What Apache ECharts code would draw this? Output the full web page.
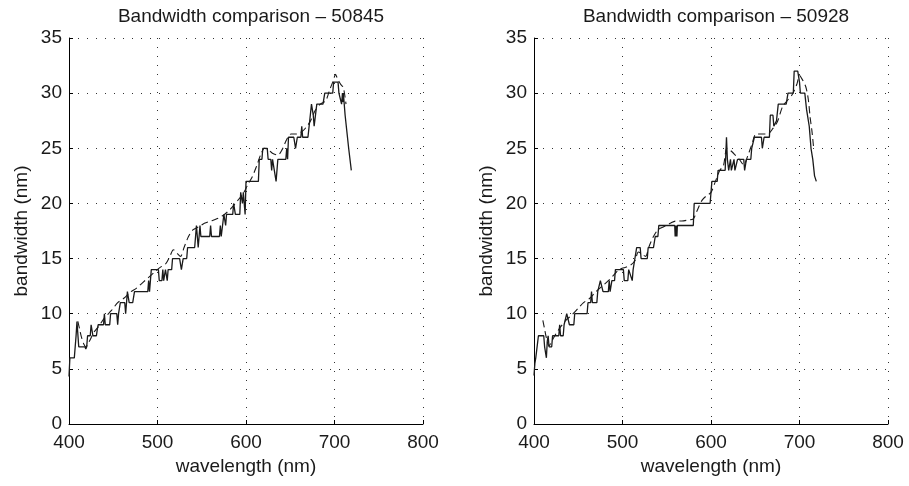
<!DOCTYPE html>
<html>
<head>
<meta charset="utf-8">
<title>Bandwidth comparison</title>
<script src="https://cdn.jsdelivr.net/npm/echarts@6/dist/echarts.min.js"></script>
<style>
  html, body { margin: 0; padding: 0; background: #fff; }
  #chart { width: 909px; height: 486px; }
</style>
</head>
<body>
<div id="chart"></div>
<script>
// Panel titles
const panelTitles = ['Bandwidth comparison \u2013 50845', 'Bandwidth comparison \u2013 50928'];

// Axis ticks
const xTicks = [400, 500, 600, 700, 800];
const yTicks = [0, 5, 10, 15, 20, 25, 30, 35];

// Measured bandwidth, sample 50845 [wavelength nm, bandwidth nm]
const measured50845 = [
  [400,4.3],[401,6],[406,6],[407,7],[408,8],[409,9.3],[411,7],[418,7],[419,6.8],[420,7],
  [421,8],[424,8],[425,9],[426,9],[427,8],[431,8],[432,8.6],[433,9],[439,9],[440,10],
  [441,9],[446,9],[447,10],[454,10],[455,9],[456,10],[457,10],[458,11],[463,11],[464,10],
  [466,12],[467,12],[468,11],[472,11],[474,12],[489,12],[490,13],[491,12],[492,12],[493,14],
  [501,14],[502,13],[505,13],[506,14],[507,13],[509,14],[511,13],[512,14],[516,14],[517,15],
  [525,15],[527,14],[529,15],[533,15],[534,16],[542,16],[543,17],[544,18],[546,16],[547,16],
  [548,18],[549,17],[559,17],[560,18],[561,17],[570,17],[571,18],[572,17],[575,19],[577,18],
  [578,19],[585,19],[586,20],[587,20],[588,19],[593,19],[594,21],[596,20],[597,21],[598,21],
  [599,19],[600,22],[614,22],[615,24],[618,24],[619,25],[624,25],[625,24],[628,24],[629,23],
  [630,24],[632,24],[634,22],[636,24],[645,24],[646,25],[647,24],[648,26],[654,26],[656,25],
  [657,25],[658,26],[662,26],[663,27],[664,26],[670,26],[674,29],[676,28],[677,27],[679,27],
  [680,29],[687,29],[689,30],[698,30],[699,31],[704,31],[705,30],[707,30],[708,29],[709,30],
  [709.5,29.2],[710,30],[712,28],[714,26.5],[716,25],[719,23]
];

// Estimated bandwidth, sample 50845
const estimated50845 = [
  [410,9.3],[412,8.6],[414,7.9],[417,7.2],[419,7.0],[423,7.5],[428,8.3],[433,8.8],[440,9.6],
  [448,10.3],[455,11.0],[462,11.4],[470,12.0],[476,12.3],[483,12.8],[490,13.3],[497,13.8],
  [503,14.2],[509,14.5],[514,15.2],[518,15.8],[522,15.5],[526,15.2],[530,16.0],[535,17.0],
  [540,17.6],[547,17.9],[553,18.2],[560,18.4],[567,18.6],[574,18.9],[580,19.3],[586,19.8],
  [592,20.4],[597,20.9],[602,21.7],[607,22.4],[612,23.4],[617,24.5],[621,25.0],[626,24.8],
  [631,24.5],[636,24.4],[641,24.9],[646,25.8],[651,26.3],[657,26.3],[663,26.5],[668,26.9],
  [673,27.5],[678,28.4],[684,29.0],[690,29.3],[695,30.4],[699,31.2],[701,31.7],[704,31.2],
  [707,30.8],[710,30.5],[713,29.0]
];

// Measured bandwidth, sample 50928
const measured50928 = [
  [400,4.4],[401,5.5],[402,6],[404,6],[405,8],[411,8],[412,7],[413,7],[414,6],[415,7.5],
  [416,8],[417,7],[420,7],[421,8],[428,8],[429,9],[430,8],[433,8],[434,9],[436,9],
  [437,10],[439,10],[440,9],[445,9],[446,10],[460,10],[461,11],[464,11],[465,12],[466,11],
  [471,11],[472,12],[474,12],[475,13],[477,13],[478,12],[484,12],[485,13],[486,12],[488,13],
  [491,13],[492,14],[501,14],[502,13],[506,13],[507,14],[509,14],[511,13],[512,14],[514,14],
  [516,16],[520,16],[521,15],[528,15],[529,16],[535,16],[537,17],[540,17],[541,18],[559,18],
  [559.5,17],[560,18],[560.5,17],[561,18],[561.5,17],[562,18],[580,18],[581,20],[599,20],[601,22],
  [607,22],[608,23],[616,23],[617.5,26],[618.5,24],[620,23],[622,24],[623,23],[625,23],[626,24],
  [627,23],[629,23],[630,24],[637,24],[638,23],[639,23],[640,24],[645,24],[646,25],[648,25],
  [649,26],[657,26],[658,25],[659,25],[660,26],[666,26],[667,28],[670,28],[671,27],[673,27],
  [674,27.5],[676,29],[685,29],[687,30],[693,30],[694,32],[698,32],[700,31],[701,30],[706,30],
  [708,28.5],[711,27],[713,25],[715,24],[717,22.5],[719,22]
];

// Estimated bandwidth, sample 50928
const estimated50928 = [
  [410,9.4],[412,8.6],[414,7.8],[417,7.1],[420,7.5],[425,8.2],[430,8.8],[436,9.4],[443,9.9],
  [450,10.5],[456,11.0],[463,11.4],[470,12.0],[477,12.5],[484,13.0],[490,13.5],[496,14.0],
  [503,14.2],[509,14.4],[514,14.8],[518,15.6],[522,15.4],[526,15.2],[530,16.1],[535,17.0],
  [540,17.6],[547,17.9],[554,18.2],[560,18.4],[567,18.4],[574,18.5],[580,18.6],[584,19.3],
  [590,20.3],[595,20.7],[600,21.0],[605,22.0],[610,23.0],[614,23.4],[618,25.0],[622,24.8],
  [626,24.5],[632,24.0],[637,23.5],[641,24.2],[646,25.3],[651,26.3],[658,26.3],[664,26.3],
  [670,26.8],[675,27.4],[681,28.8],[687,29.4],[692,29.9],[697,30.8],[700,31.6],[702,31.4],
  [707,30.6],[710,29.4],[712,27.8],[714,26.6],[716,25.0]
];

const FONT = 'Liberation Sans, Arial, Helvetica, sans-serif';
const INK = '#1a1a1a';

const chart = echarts.init(document.getElementById('chart'), null, { renderer: 'canvas' });

const grids = [
  { left: 69, top: 38, width: 354, height: 386 },
  { left: 534, top: 38, width: 354, height: 386 }
];

function xAxisFor(i) {
  return {
    type: 'value', gridIndex: i,
    min: xTicks[0], max: xTicks[xTicks.length - 1], interval: 100,
    name: 'wavelength (nm)', nameLocation: 'middle', nameGap: 33,
    nameTextStyle: { fontFamily: FONT, fontSize: 19, color: INK },
    axisLine: { show: true, onZero: false, lineStyle: { color: '#000', width: 1 } },
    axisTick: { show: true, inside: true, length: 4, lineStyle: { color: '#000' } },
    axisLabel: { fontFamily: FONT, fontSize: 19, color: INK, margin: 9 },
    splitLine: { show: true, lineStyle: { color: '#333', width: 1, type: [1, 8] } }
  };
}

function yAxisFor(i) {
  return {
    type: 'value', gridIndex: i,
    min: yTicks[0], max: yTicks[yTicks.length - 1], interval: 5,
    name: 'bandwidth (nm)', nameLocation: 'middle', nameGap: 38,
    nameTextStyle: { fontFamily: FONT, fontSize: 19, color: INK },
    axisLine: { show: true, onZero: false, lineStyle: { color: '#000', width: 1 } },
    axisTick: { show: true, inside: true, length: 4, lineStyle: { color: '#000' } },
    axisLabel: { fontFamily: FONT, fontSize: 19, color: INK, margin: 7 },
    splitLine: { show: true, lineStyle: { color: '#333', width: 1, type: [1, 8] } }
  };
}

function measuredSeries(i, data) {
  return {
    type: 'line', xAxisIndex: i, yAxisIndex: i, data: data,
    showSymbol: false, symbol: 'none', animation: false, z: 3,
    lineStyle: { color: INK, width: 1.3 }
  };
}

function estimatedSeries(i, data) {
  return {
    type: 'line', xAxisIndex: i, yAxisIndex: i, data: data,
    showSymbol: false, symbol: 'none', animation: false, z: 2, smooth: 0.3,
    lineStyle: { color: INK, width: 1.1, type: [7, 4] }
  };
}

chart.setOption({
  backgroundColor: '#fff',
  animation: false,
  title: panelTitles.map((t, i) => ({
    text: t,
    left: grids[i].left + grids[i].width / 2,
    textAlign: 'center',
    top: 2,
    textStyle: { fontFamily: FONT, fontSize: 19, fontWeight: 'normal', color: INK }
  })),
  grid: grids,
  xAxis: [xAxisFor(0), xAxisFor(1)],
  yAxis: [yAxisFor(0), yAxisFor(1)],
  series: [
    estimatedSeries(0, estimated50845),
    measuredSeries(0, measured50845),
    estimatedSeries(1, estimated50928),
    measuredSeries(1, measured50928)
  ]
});
</script>
</body>
</html>
